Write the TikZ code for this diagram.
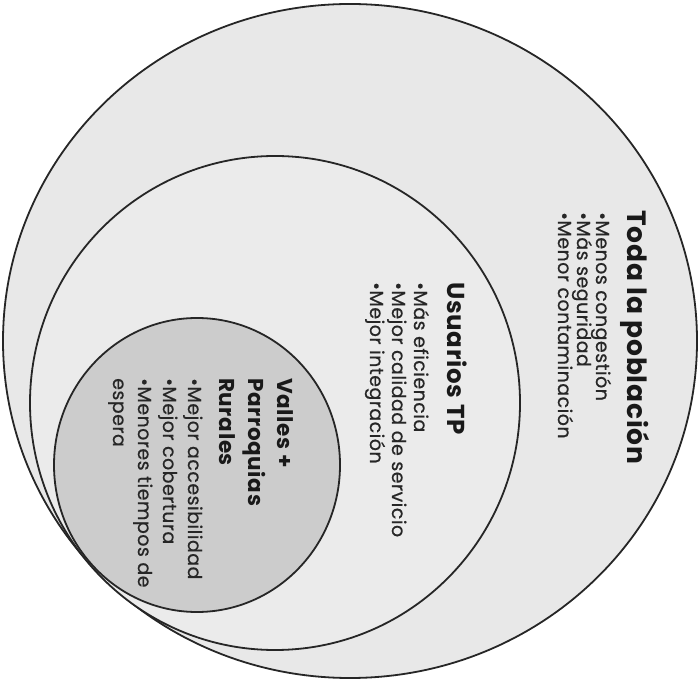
\documentclass[tikz,border=0pt]{standalone}
\usepackage{fontspec}
\setmainfont{Poppins}
\usetikzlibrary{calc}

\begin{document}
\begin{tikzpicture}[x=1pt,y=1pt,
  ring/.style={draw=black!85,line width=1.8pt},
  head/.style={rotate=-90,anchor=base west,inner sep=0pt,text=black!90,
    font={\fontsize{#1}{#1}\selectfont\bfseries\addfontfeatures{LetterSpace=3}}},
  point/.style={rotate=-90,anchor=base west,inner sep=0pt,text=black!85,
    font={\fontsize{19}{22}\selectfont\addfontfeatures{LetterSpace=2.5,FakeBold=0.6}}}]
\useasboundingbox (0,0) rectangle (700,682);

% Nested circles
\draw[ring,fill=black!9] (350,341) ellipse [x radius=347,y radius=337];
\draw[ring,fill=black!8] (275,279) ellipse [x radius=245,y radius=247];
\draw[ring,fill=black!20] (197,217) ellipse [x radius=143,y radius=147];

% Toda la poblacion
\node[head=26.5] (toda) at (627,472) {Toda la población};
\foreach \txt [count=\i] in {Menos congestión,Más seguridad,Menor contaminación}
  \node[point] (toda-\i) at (615-\i*19,470) {•\txt};

% Usuarios TP
\node[head=24.5] (usuarios) at (447,400) {Usuarios TP};
\foreach \txt [count=\i] in {Más eficiencia,Mejor calidad de servicio,Mejor integración}
  \node[point] (usuarios-\i) at (436-\i*22,400) {•\txt};

% Valles + Parroquias Rurales
\foreach \txt [count=\i] in {Valles +,Parroquias,Rurales}
  \node[head=21.5] (valles-\i) at (306-\i*29,304) {\txt};
\foreach \txt [count=\i] in {•Mejor accesibilidad,•Mejor cobertura,•Menores tiempos de,espera}
  \node[point] (valles-p\i) at (213-\i*25,304) {\txt};
\end{tikzpicture}
\end{document}
